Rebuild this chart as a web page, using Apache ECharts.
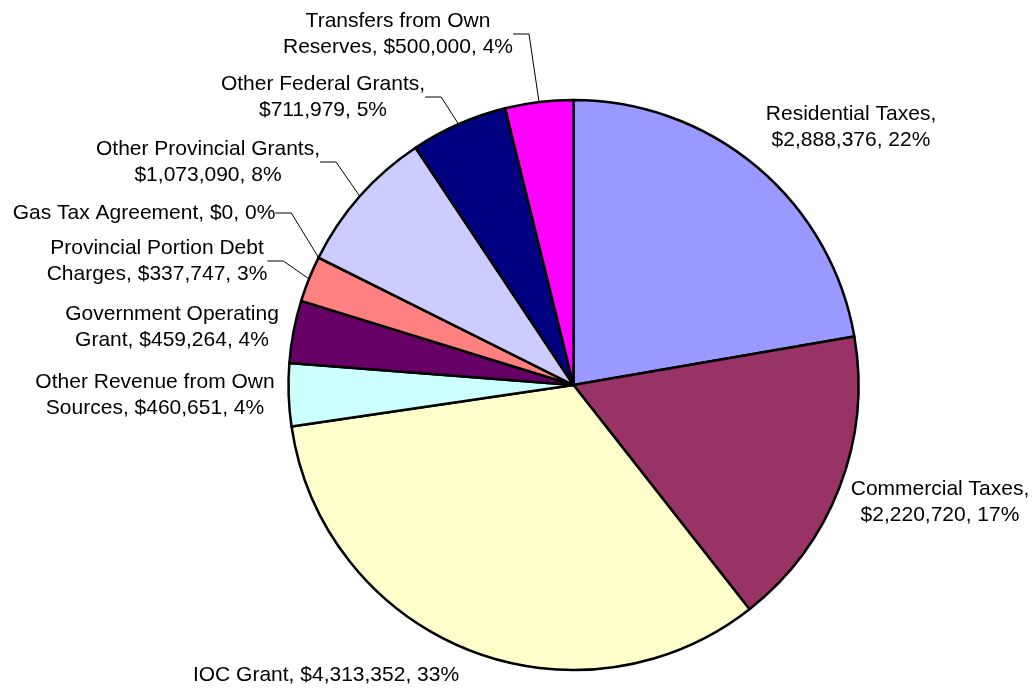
<!DOCTYPE html>
<html lang="en">
<head>
    <meta charset="UTF-8">
    <title>Revenue Sources Pie</title>
    <script src="https://cdn.jsdelivr.net/npm/echarts@6/dist/echarts.min.js"></script>
    <style>
        html, body, #chart {
            width: 100%;
            height: 100%;
            padding: 0;
            margin: 0;
            background: #fff;
        }
    </style>
</head>
<body>
<div id="chart"></div>
<script>
    // slices, clockwise from 12 o'clock
    var names = [
        "Residential Taxes",
        "Commercial Taxes",
        "IOC Grant",
        "Other Revenue from Own Sources",
        "Government Operating Grant",
        "Provincial Portion Debt Charges",
        "Gas Tax Agreement",
        "Other Provincial Grants",
        "Other Federal Grants",
        "Transfers from Own Reserves"
    ];
    var values = [2888376, 2220720, 4313352, 460651, 459264, 337747, 0, 1073090, 711979, 500000];

    var colors = ["#9999FF", "#993366", "#FFFFCC", "#CCFFFF", "#660066",
                  "#FF8080", "#0066CC", "#CCCCFF", "#000080", "#FF00FF"];
    // words on the first line of each label (0 = one line)
    var firstLineWords = [2, 2, 0, 4, 2, 3, 0, 3, 3, 3];
    // label centres, as Excel placed them
    var labelPos = [
        [851, 127], [940, 502], [326, 675], [155, 395], [172, 327],
        [157, 261], [144, 213], [208, 162], [323, 97], [398, 34]
    ];
    var hasLeader = [false, false, false, false, false, true, true, true, true, true];

    var myChart = echarts.init(document.getElementById("chart"));

    function labelText(params) {
        var i = params.dataIndex;
        var full = params.name + ", $" + params.value.toLocaleString("en-US") + ", " +
            Math.round(params.percent) + "%";
        var n = firstLineWords[i];
        if (!n) return full;
        var words = full.split(" ");
        return words.slice(0, n).join(" ") + "\n" + words.slice(n).join(" ");
    }

    myChart.setOption({
        animation: false,
        series: [{
            type: "pie",
            center: [573.5, 385],
            radius: 285,
            startAngle: 90,
            clockwise: true,
            avoidLabelOverlap: false,
            itemStyle: {
                borderColor: "#000",
                borderWidth: 2.5
            },
            emphasis: {disabled: true},
            label: {
                show: true,
                position: "outside",
                formatter: labelText,
                color: "#000",
                fontFamily: "Liberation Sans, Arial, sans-serif",
                fontSize: 21,
                lineHeight: 26,
                align: "center"
            },
            labelLine: {
                show: false,
                length: 10,
                length2: 16,
                minTurnAngle: 0,
                lineStyle: {color: "#000", width: 1}
            },
            labelLayout: function (params) {
                var p = labelPos[params.dataIndex];
                return {
                    x: p[0],
                    y: p[1],
                    align: "center",
                    verticalAlign: "middle"
                };
            },
            data: names.map(function (name, i) {
                return {
                    name: name,
                    value: values[i],
                    itemStyle: {color: colors[i]},
                    labelLine: {show: hasLeader[i]}
                };
            })
        }]
    });
</script>
</body>
</html>
